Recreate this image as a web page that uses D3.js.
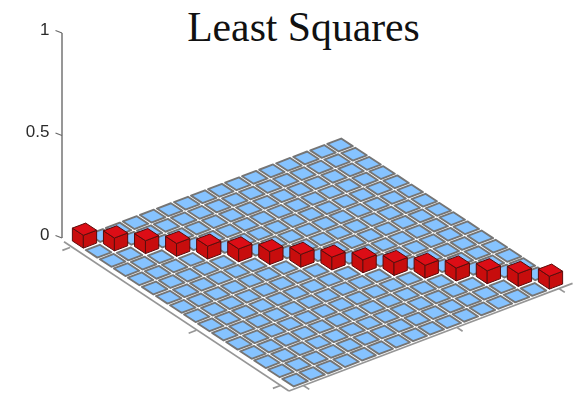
<!DOCTYPE html>
<html><head><meta charset="utf-8">
<script src="https://cdn.jsdelivr.net/npm/d3@7"></script>
<style>html,body{margin:0;background:#fff}svg{display:block}</style></head>
<body><svg id="c" width="577" height="393"></svg>
<script>
const titleText = "Least Squares";
const gridIndex = d3.range(1, 17);
const diagonalValues = [0.0625,0.0625,0.0625,0.0625,0.0625,0.0625,0.0625,0.0625,0.0625,0.0625,0.0625,0.0625,0.0625,0.0625,0.0625,0.0625];
const offDiagonalValue = 0;
const zTicks = [0, 0.5, 1];
const zTickLabels = ["0", "0.5", "1"];
const floorTicks = [1, 10, 16];

const sxA = d3.scaleLinear().domain([1,16]).range([0,255.5]);
const syA = d3.scaleLinear().domain([1,16]).range([0,-97]);
const sxB = d3.scaleLinear().domain([1,16]).range([0,210.5]);
const syB = d3.scaleLinear().domain([1,16]).range([0,138]);
const zS = d3.scaleLinear().domain([0,1]).range([0,-205]);
const P = (a,b,z=0) => [84.5+sxA(a)+sxB(b), 242+syA(a)+syB(b)+zS(z)];
const line = pts => "M"+pts.map(p=>p.map(v=>v.toFixed(2)).join(",")).join("L")+"Z";

const svg = d3.select("#c");
svg.append("defs").append("filter").attr("id","soft").attr("x","0").attr("y","0").attr("width","577").attr("height","393").attr("filterUnits","userSpaceOnUse")
  .append("feGaussianBlur").attr("stdDeviation",0.6);
const g = svg.append("g").attr("filter","url(#soft)");

const zAxisScale = d3.scaleLinear().domain([0,1]).range([238,33]);
g.append("line").attr("x1",62).attr("x2",62).attr("y1",zAxisScale(0)).attr("y2",zAxisScale(1)).attr("stroke","#858585").attr("stroke-width",1.7);
g.selectAll(".zt").data(zTicks).join("line").attr("x1",62).attr("x2",55.5)
  .attr("y1",d=>zAxisScale(d)).attr("y2",d=>zAxisScale(d)-2.4).attr("stroke","#666").attr("stroke-width",1.1);
g.selectAll(".zl").data(zTicks).join("text").attr("x",49.5).attr("y",d=>zAxisScale(d)-2.5)
  .attr("text-anchor","end").attr("font-family","Liberation Sans").attr("font-size",17).attr("fill","#2b2b2b")
  .attr("dominant-baseline","middle").text((d,i)=>zTickLabels[i]);

const axisColor="#969696";
const leftA=0.15, rightB=16.6, aEnd=16.8;
const fl = (p,q)=>g.append("line").attr("x1",p[0]).attr("y1",p[1]).attr("x2",q[0]).attr("y2",q[1]).attr("stroke",axisColor).attr("stroke-width",1.7);
fl(P(0.25,0.45), P(0.15,rightB));
fl(P(0.15,rightB), P(aEnd,rightB));
floorTicks.forEach(t=>{
  fl(P(t,rightB), P(t,rightB+0.42));
  fl(P(leftA,t), P(leftA-0.45,t));
});

const half=0.41;
const cells=[];
gridIndex.forEach((a,ia)=>gridIndex.forEach((b,ib)=>{
  cells.push({a,b,v: ia===ib ? diagonalValues[ia] : offDiagonalValue});
}));
cells.sort((p,q)=>(P(p.a,p.b)[1]-P(q.a,q.b)[1]));
const draw=g.append("g");
const edge="#5a0808";
cells.forEach(c=>{
  const a0=c.a-half,a1=c.a+half,b0=c.b-half,b1=c.b+half;
  if(c.v===0){
    draw.append("path").attr("d",line([P(a0,b0),P(a1,b0),P(a1,b1),P(a0,b1)]))
      .attr("fill","#86c3ff").attr("stroke","#757575").attr("stroke-width",1.9).attr("stroke-linejoin","round");
  } else {
    const z=c.v, h=0.39;
    const A0=c.a-h,A1=c.a+h,B0=c.b-h,B1=c.b+h;
    draw.append("path").attr("d",line([P(A0,B0,0),P(A0,B1,0),P(A0,B1,z),P(A0,B0,z)])).attr("fill","#c90e10").attr("stroke",edge).attr("stroke-width",1);
    draw.append("path").attr("d",line([P(A0,B1,0),P(A1,B1,0),P(A1,B1,z),P(A0,B1,z)])).attr("fill","#c70d0f").attr("stroke",edge).attr("stroke-width",1);
    draw.append("path").attr("d",line([P(A0,B0,z),P(A1,B0,z),P(A1,B1,z),P(A0,B1,z)])).attr("fill","#dc1113").attr("stroke",edge).attr("stroke-width",1);
  }
});

svg.append("text").attr("x",303.5).attr("y",41).attr("text-anchor","middle")
  .attr("font-family","Liberation Serif").attr("font-size",41.7).attr("fill","#111").text(titleText);
</script></body></html>
